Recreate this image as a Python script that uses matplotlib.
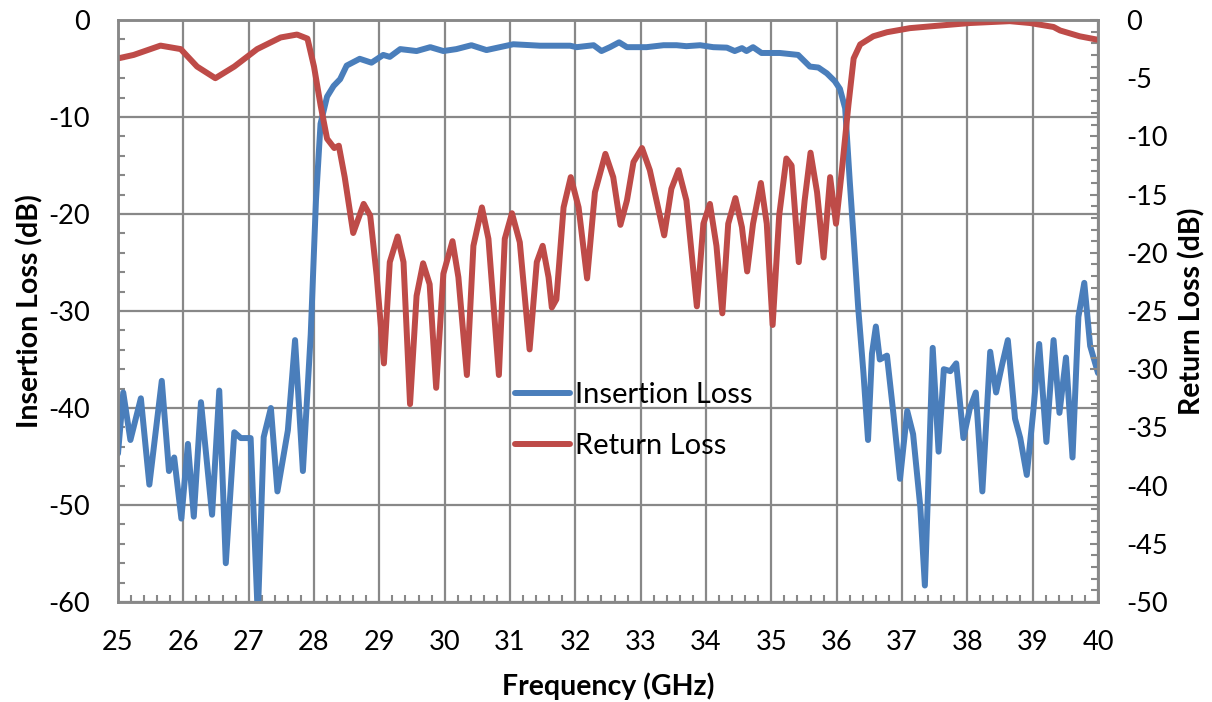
import numpy as np
import matplotlib.pyplot as plt
from matplotlib.ticker import MultipleLocator

# insertion loss (left axis, dB)
freq_il = [25.0, 25.08, 25.19, 25.35, 25.48, 25.67, 25.78, 25.86, 25.97, 26.07,
           26.16, 26.27, 26.44, 26.55, 26.65, 26.78, 26.88, 27.03, 27.14, 27.23,
           27.34, 27.44, 27.6, 27.71, 27.83, 27.95, 28.03, 28.1, 28.2, 28.3,
           28.4, 28.5, 28.7, 28.88, 29.06, 29.16, 29.32, 29.57, 29.78, 29.98,
           30.18, 30.41, 30.64, 31.05, 31.46, 31.92, 32.02, 32.28, 32.4, 32.53,
           32.67, 32.79, 33.09, 33.35, 33.55, 33.7, 33.91, 34.11, 34.32, 34.44,
           34.55, 34.62, 34.72, 34.85, 35.13, 35.41, 35.59, 35.72, 35.85, 35.97,
           36.05, 36.13, 36.2, 36.26, 36.33, 36.41, 36.48, 36.54, 36.6, 36.66,
           36.77, 36.87, 36.97, 37.08, 37.17, 37.28, 37.35, 37.4, 37.47, 37.56,
           37.64, 37.74, 37.83, 37.94, 38.04, 38.13, 38.23, 38.35, 38.44, 38.53,
           38.62, 38.73, 38.81, 38.91, 39.01, 39.1, 39.21, 39.32, 39.41, 39.51,
           39.61, 39.7, 39.79, 39.88, 40.0]
il = [-44.7, -38.4, -43.3, -39.0, -47.9, -37.2, -46.5, -45.1, -51.4, -43.7,
      -51.2, -39.4, -51.0, -38.2, -56.0, -42.5, -43.1, -43.1, -61.5, -43.0,
      -40.0, -48.6, -42.3, -33.0, -46.5, -32.4, -18.6, -10.7, -7.9, -6.8,
      -6.1, -4.7, -4.0, -4.4, -3.6, -3.8, -3.0, -3.2, -2.8, -3.2,
      -3.0, -2.6, -3.1, -2.5, -2.65, -2.65, -2.8, -2.6, -3.2, -2.8,
      -2.3, -2.8, -2.8, -2.6, -2.6, -2.7, -2.6, -2.8, -2.85, -3.2,
      -2.9, -3.2, -2.8, -3.4, -3.4, -3.6, -4.8, -4.9, -5.5, -6.3,
      -7.1, -9.1, -16.6, -22.5, -29.7, -36.4, -43.3, -34.4, -31.6, -35.0,
      -34.6, -40.7, -47.3, -40.3, -42.7, -50.2, -58.3, -48.3, -33.8, -44.5,
      -36.0, -36.2, -35.4, -43.1, -40.0, -38.4, -48.6, -34.2, -38.4, -35.6,
      -33.0, -41.1, -43.1, -46.9, -40.3, -33.4, -43.5, -33.0, -40.5, -34.8,
      -45.1, -30.6, -27.1, -33.6, -36.4]

# return loss (right axis, dB)
freq_rl = [25.0, 25.24, 25.65, 25.96, 26.21, 26.49, 26.78, 27.13, 27.49, 27.74,
           27.9, 28.0, 28.1, 28.2, 28.31, 28.38, 28.47, 28.6, 28.76, 28.86,
           28.96, 29.07, 29.16, 29.28, 29.37, 29.47, 29.57, 29.67, 29.77, 29.87,
           29.98, 30.12, 30.21, 30.34, 30.44, 30.57, 30.67, 30.83, 30.92, 31.03,
           31.15, 31.3, 31.41, 31.5, 31.59, 31.64, 31.71, 31.82, 31.93, 32.05,
           32.18, 32.3, 32.46, 32.58, 32.69, 32.79, 32.89, 33.02, 33.14, 33.36,
           33.47, 33.58, 33.7, 33.86, 33.96, 34.06, 34.16, 34.25, 34.34, 34.45,
           34.55, 34.63, 34.72, 34.84, 34.93, 35.02, 35.12, 35.23, 35.31, 35.42,
           35.51, 35.6, 35.7, 35.8, 35.9, 35.99, 36.08, 36.18, 36.26, 36.36,
           36.56, 36.77, 37.12, 37.53, 38.04, 38.65, 38.96, 39.32, 39.42, 39.72,
           40.0]
rl = [-3.3, -3.0, -2.2, -2.5, -4.0, -5.0, -4.0, -2.5, -1.5, -1.25,
      -1.6, -4.0, -7.3, -10.2, -11.0, -10.8, -13.5, -18.3, -15.8, -16.8,
      -22.0, -29.5, -20.8, -18.6, -20.8, -33.0, -23.7, -20.9, -22.7, -31.6,
      -21.8, -19.0, -22.1, -30.5, -19.4, -16.1, -18.8, -30.5, -18.8, -16.6,
      -19.1, -28.3, -20.8, -19.4, -22.1, -24.7, -24.0, -16.1, -13.5, -16.1,
      -22.2, -14.8, -11.5, -13.5, -17.6, -15.5, -12.2, -11.0, -12.9, -18.5,
      -14.5, -12.9, -15.5, -24.6, -17.5, -15.8, -19.4, -25.2, -17.5, -15.3,
      -17.8, -21.6, -17.5, -14.0, -17.5, -26.2, -16.8, -11.9, -12.5, -20.8,
      -15.5, -11.4, -14.8, -20.4, -13.5, -17.5, -12.9, -7.3, -3.3, -2.1,
      -1.4, -1.05, -0.7, -0.5, -0.26, -0.1, -0.26, -0.6, -0.9, -1.4,
      -1.7]

plt.rcParams['font.family'] = ['Lato', 'DejaVu Sans']
plt.rcParams['axes.unicode_minus'] = False

fig = plt.figure(figsize=(12.12, 7.02), dpi=100)
ax = fig.add_axes([118/1212, 1 - 602/702, 980/1212, 582/702])
ax2 = ax.twinx()

gray = '#888888'
l1, = ax.plot(freq_il, il, color='#4A7EBB', lw=4.3, solid_joinstyle='round',
              solid_capstyle='round', label='Insertion Loss')
l2, = ax2.plot(freq_rl, rl, color='#BE4B48', lw=4.3, solid_joinstyle='round',
               solid_capstyle='round', label='Return Loss')

ax.set_xlim(25, 40)
ax.set_ylim(-60, 0)
ax2.set_ylim(-50, 0)

ax.xaxis.set_major_locator(MultipleLocator(1))
ax.xaxis.set_minor_locator(MultipleLocator(0.2))
ax.yaxis.set_major_locator(MultipleLocator(10))
ax.yaxis.set_minor_locator(MultipleLocator(2))
ax2.yaxis.set_major_locator(MultipleLocator(5))
ax2.yaxis.set_minor_locator(MultipleLocator(1))

ax.grid(True, which='major', color=gray, lw=1.6)
ax.set_axisbelow(True)

for a in (ax, ax2):
    for s in a.spines.values():
        s.set_color(gray)
        s.set_linewidth(1.8)
ax.tick_params(which='major', direction='in', length=0, labelsize=19.5, pad=20)
ax.tick_params(which='minor', direction='in', length=5, width=1.5, color=gray)
ax.tick_params(axis='y', which='minor', right=False)
ax2.tick_params(which='major', direction='in', length=6, width=1.5, color=gray,
                labelsize=19.5, pad=20)
ax2.tick_params(which='minor', direction='in', length=5, width=1.5, color=gray)
ax.set_yticks([-60, -50, -40, -30, -20, -10, 0])
ax2.set_yticks([-50, -45, -40, -35, -30, -25, -20, -15, -10, -5, 0])

fig.text(30/1212, 1 - 311/702, 'Insertion Loss (dB)', rotation=90, ha='center',
         va='center', fontsize=20.5, fontweight='bold')
fig.text(1192/1212, 1 - 311/702, 'Return Loss (dB)', rotation=90, ha='center',
         va='center', fontsize=20.5, fontweight='bold')
fig.text(608/1212, 1 - 686/702, 'Frequency (GHz)', ha='center', va='center',
         fontsize=20.5, fontweight='bold')

ax2.legend(handles=[l1, l2], loc='upper left', bbox_to_anchor=(515/1212, 1 - 382/702),
           bbox_transform=fig.transFigure, frameon=False, fontsize=21,
           handlelength=1.9, handletextpad=0.15, labelspacing=0.85,
           borderpad=0, borderaxespad=0)

fig.savefig('out.png', dpi=100)
